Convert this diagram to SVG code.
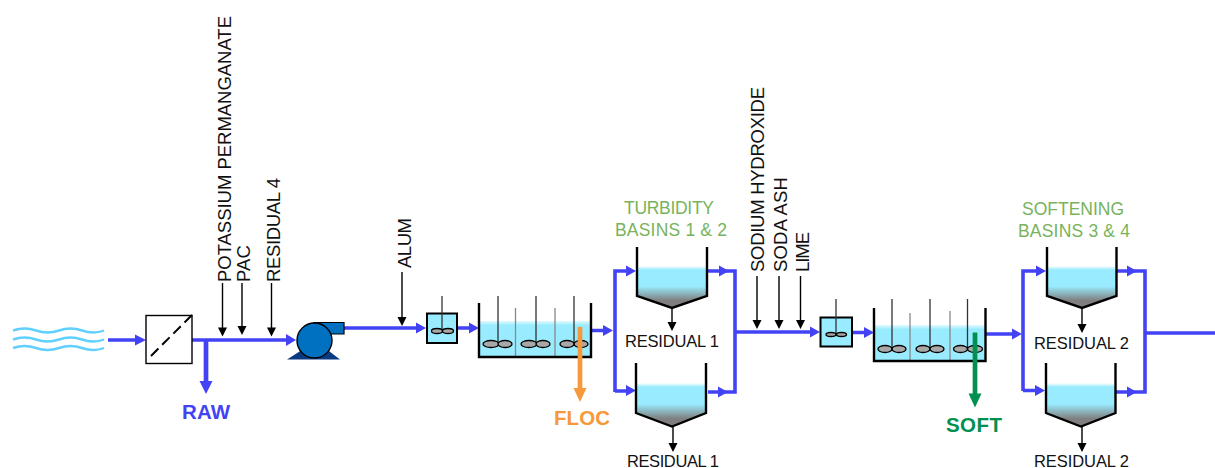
<svg xmlns="http://www.w3.org/2000/svg" width="1215" height="468" viewBox="0 0 1215 468">
<style>
text{font-family:"Liberation Sans",Arial,sans-serif}
.t{font-size:18.5px;fill:#111}
.h{font-size:16.5px;fill:#111}
.g{font-size:17.5px;fill:#78b35c}
.l{font-size:20.5px;font-weight:bold}
.p{fill:none;stroke:#4343f5;stroke-width:3.600}
.k{fill:none;stroke:#000;stroke-width:1.400}
.w{fill:none;stroke:#5fd0ff;stroke-width:2.400}
.wall{fill:none;stroke:#000;stroke-width:2.400}
.s{stroke:#333;stroke-width:1.300;fill:none}
.b{stroke:#888;stroke-width:1.300}
.i{fill:#a8a8a8;stroke:#000;stroke-width:1.300}
.ha{fill:#4343f5}
.hk{fill:#000}
</style>
<defs>
<linearGradient id="bw" x1="0" y1="0" x2="0" y2="1">
<stop offset="0" stop-color="#fff"/><stop offset=".09" stop-color="#99ecff"/><stop offset=".48" stop-color="#99ecff"/><stop offset=".82" stop-color="#7f7f7f"/><stop offset="1" stop-color="#7f7f7f"/>
</linearGradient>
<linearGradient id="tw" x1="0" y1="0" x2="0" y2="1">
<stop offset="0" stop-color="#e4f9ff"/><stop offset=".12" stop-color="#99ecff"/><stop offset="1" stop-color="#99ecff"/>
</linearGradient>
</defs>
<g id="connectors">
<path class="p" d="M108 340H138M192 340H288M344 328H419M457 328H472M591 330.500H608M615 392V271H630M615 391H630M708 271H735V392H708M735 332H814M852 332.500H867M985 334H1016M1023 391V271H1040M1023 390.500H1040M1116 271H1145V392H1116M1145 333H1215"/>
<path d="M206 340V384" fill="none" stroke="#4343f5" stroke-width="4.700"/>
<path class="ha" d="M146 340l-11-5.500v11zM296 340l-10-6v12zM426 328l-10-5.500v11zM479 328l-10-5.500v11zM613 330.500l-10-5.500v11zM636 271l-10-5.500v11zM636 390.500l-10-5.500v11zM729 271l-10-5.500v11zM728 392l-10-5.500v11zM820 332l-10-5.500v11zM874 332.500l-10-5.500v11zM1022 334l-10-5.500v11zM1046 271l-10-5.500v11zM1045 390.500l-10-5.500v11zM1137 271l-10-5.500v11zM1137 392l-10-5.500v11z"/>
<path class="ha" d="M206 394l-6.500-13h13z"/>
<path class="k" d="M222.500 283V328M242 283V327M271.500 283V328M402 272V318M757 276V321M779 276V321M800.500 276V321M672 308V323M673 427V444M1082 308V325M1082 427V444"/>
<path class="hk" d="M222.500 336.500l-4.500-9h9zM242 335l-4.500-9h9zM271.500 336.500l-4.500-9h9zM402 326l-4.500-9h9zM757 329l-4.500-9h9zM779 329l-4.500-9h9zM800.500 329l-4.500-9h9zM672 331l-4.500-9h9zM673 452l-4.500-9h9zM1082 333l-4.500-9h9zM1082 452l-4.500-9h9z"/>
</g>
<g id="source"><path class="w" d="M13 330.500q11.500-4 23 0t23 0 23 0 22 0M13 339.500q11.500-4 23 0t23 0 23 0 22 0M13 348q11.500-4 23 0t23 0 23 0 22 0"/></g>
<g id="screen"><rect x="146" y="315.500" width="46" height="48" fill="#fff" stroke="#000" stroke-width="1.400"/><path d="M151 356L192 315" stroke="#000" stroke-width="2" stroke-dasharray="10.500 5.300" fill="none"/></g>
<g id="pump"><path d="M287 359.500L305 348H325L340 359.500z" fill="#0a3a80"/><path d="M314 322.500H344V334H326z" fill="#0070c0" stroke="#000" stroke-width="1.200"/><circle cx="314.500" cy="340.500" r="17.500" fill="#0070c0" stroke="#000" stroke-width="1.400"/></g>
<g id="mixer1"><rect x="427" y="313.500" width="30" height="29.500" fill="#99ecff" stroke="#000" stroke-width="2"/><path class="s" d="M442 296V331"/><ellipse class="i" cx="437" cy="331" rx="5.500" ry="2.500"/><ellipse class="i" cx="448" cy="331" rx="5.500" ry="2.500"/></g>
<g id="floc-tank"><rect x="479" y="321" width="112" height="36" fill="url(#tw)"/><path class="b" d="M515.500 308V357M555 308V357"/><path class="s" d="M498 296V343M536 296V343M574 296V343"/><path class="wall" d="M479 303V357H591V303"/><ellipse class="i" cx="491" cy="344" rx="8" ry="3.500"/><ellipse class="i" cx="505" cy="344" rx="7" ry="3.500"/><ellipse class="i" cx="529" cy="344" rx="8" ry="3.500"/><ellipse class="i" cx="543" cy="344" rx="7" ry="3.500"/><ellipse class="i" cx="567" cy="344" rx="7" ry="3.500"/><ellipse class="i" cx="581" cy="344" rx="7" ry="3.500"/></g>
<g id="floc-sample"><path d="M580 327V390" stroke="#f7983a" stroke-width="4.700" fill="none"/><path d="M580 402l-6.500-14h13z" fill="#f7983a"/></g>
<g id="basin1"><path d="M637 266H707V296L672 308L637 296z" fill="url(#bw)"/><path class="wall" d="M637 247V296L672 308L707 296V247"/></g>
<g id="basin2"><path d="M636 383H706V413L672 426.500L636 413z" fill="url(#bw)"/><path class="wall" d="M636 363V413L672 426.500L706 413V363"/></g>
<g id="mixer2"><rect x="820.500" y="317.500" width="31.500" height="29" fill="#99ecff" stroke="#000" stroke-width="2"/><path class="s" d="M836 299V334"/><ellipse class="i" cx="831" cy="334.500" rx="5" ry="2"/><ellipse class="i" cx="841.500" cy="334.500" rx="5" ry="2"/></g>
<g id="soft-tank"><rect x="874" y="325" width="111" height="36" fill="url(#tw)"/><path class="b" d="M910 313V361M950 311V361"/><path class="s" d="M892 299V348M930 299V348M967.500 299V348"/><path class="wall" d="M874 308V361H985.500V308"/><ellipse class="i" cx="885" cy="349" rx="7" ry="3.500"/><ellipse class="i" cx="899" cy="349" rx="7" ry="3.500"/><ellipse class="i" cx="923" cy="349" rx="7" ry="3.500"/><ellipse class="i" cx="937" cy="349" rx="7" ry="3.500"/><ellipse class="i" cx="960.500" cy="349" rx="7" ry="3.500"/><ellipse class="i" cx="975" cy="349" rx="7.500" ry="3.500"/></g>
<g id="soft-sample"><path d="M975 332.500V396" stroke="#009050" stroke-width="4.700" fill="none"/><path d="M975 407.500l-6.500-14h13z" fill="#009050"/></g>
<g id="basin3"><path d="M1047 266H1116.500V296L1082 308L1047 296z" fill="url(#bw)"/><path class="wall" d="M1047 247V296L1082 308L1116.500 296V247"/></g>
<g id="basin4"><path d="M1046 383H1115.500V413L1081 426.500L1046 413z" fill="url(#bw)"/><path class="wall" d="M1046 363V413L1081 426.500L1115.500 413V363"/></g>
<g id="labels">
<text class="t" transform="translate(230.500 282) rotate(-90)" textLength="266">POTASSIUM PERMANGANATE</text>
<text class="t" transform="translate(250 282) rotate(-90)" textLength="37">PAC</text>
<text class="t" transform="translate(279.500 282) rotate(-90)" textLength="104">RESIDUAL 4</text>
<text class="t" transform="translate(411 268) rotate(-90)" textLength="50">ALUM</text>
<text class="t" transform="translate(764 272) rotate(-90)" textLength="185">SODIUM HYDROXIDE</text>
<text class="t" transform="translate(787 272) rotate(-90)" textLength="95">SODA ASH</text>
<text class="t" transform="translate(809 272) rotate(-90)" textLength="40">LIME</text>
<text class="h" x="625" y="347" textLength="94">RESIDUAL 1</text>
<text class="h" x="627" y="466.500" textLength="92">RESIDUAL 1</text>
<text class="h" x="1034" y="348.500" textLength="95">RESIDUAL 2</text>
<text class="h" x="1034" y="466.500" textLength="95">RESIDUAL 2</text>
<text class="g" x="624" y="214" textLength="90">TURBIDITY</text>
<text class="g" x="615" y="236" textLength="112">BASINS 1 &amp; 2</text>
<text class="g" x="1022" y="215" textLength="102">SOFTENING</text>
<text class="g" x="1018" y="237" textLength="112">BASINS 3 &amp; 4</text>
<text class="l" x="182" y="418.500" fill="#4343f5" textLength="48">RAW</text>
<text class="l" x="554" y="425" fill="#f7983a" textLength="56">FLOC</text>
<text class="l" x="946" y="431.500" fill="#009050" textLength="56">SOFT</text>
</g>
</svg>
